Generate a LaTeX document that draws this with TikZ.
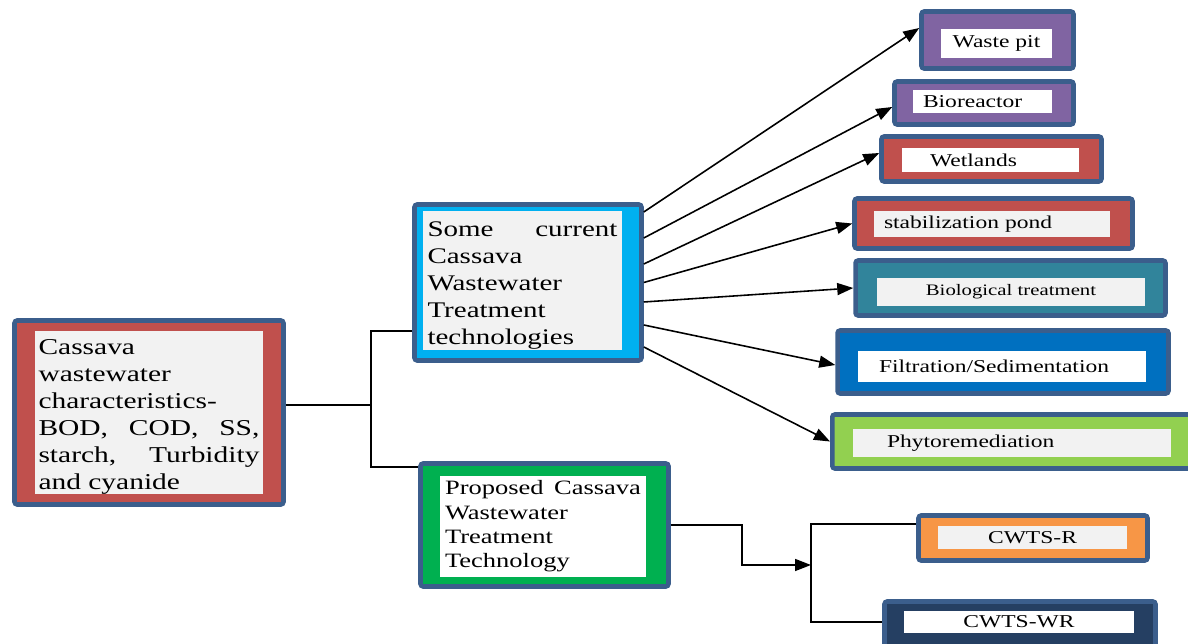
\documentclass[tikz,border=0pt]{standalone}
\usepackage{fontspec}
\setmainfont{Liberation Serif}[FakeStretch=1.3]
\usetikzlibrary{arrows.meta}
\definecolor{edge}{RGB}{59,94,140}
\definecolor{brick}{HTML}{C0504D}
\definecolor{sky}{HTML}{00B0F0}
\definecolor{leaf}{HTML}{00B050}
\definecolor{plum}{HTML}{8064A2}
\definecolor{teal}{HTML}{31849B}
\definecolor{ocean}{HTML}{0070C0}
\definecolor{lime}{HTML}{92D050}
\definecolor{amber}{HTML}{F79646}
\definecolor{navy}{HTML}{253F62}
\definecolor{paper}{HTML}{F2F2F2}
\tikzset{
  frame/.style={draw=edge, line width=2.6pt, rounded corners=1.5pt, fill=#1, inner sep=0pt},
  panel/.style={fill=#1, inner sep=0pt, font=\fontsize{10.3}{12}\selectfont},
  link/.style={line width=0.9pt},
}
\begin{document}
\begin{tikzpicture}[x=0.02cm, y=-0.02cm, >={Triangle[length=3.2mm,width=2.4mm]}]
\useasboundingbox (0,0) rectangle (1188,644);
\clip (0,0) rectangle (1188,644);

% main boxes
\node[frame=brick, minimum width=5.38cm, minimum height=3.68cm] (chars) at (149,412.5) {};
\node[panel=paper, minimum width=4.56cm, minimum height=3.26cm, align=left,
  font=\fontsize{12.9}{15.4}\selectfont] (chars-in) at (149,412.5)
  {\rule{0pt}{13.2pt}Cassava\\ wastewater\\ characteristics-\\ \makebox[4.42cm][s]{BOD, COD, SS,}\\
   \makebox[4.42cm][s]{starch, Turbidity}\\ and cyanide};

\node[frame=sky, minimum width=4.54cm, minimum height=3.12cm] (tech) at (528,282.5) {};
\node[panel=paper, minimum width=3.98cm, minimum height=2.70cm, align=left,
  font=\fontsize{12.7}{15.4}\selectfont] (tech-in) at (522.5,280.5)
  {\rule{0pt}{14.4pt}\makebox[3.8cm][s]{Some current}\\ Cassava\\ Wastewater\\ Treatment\\ technologies};

\node[frame=leaf, minimum width=4.96cm, minimum height=2.46cm] (prop) at (544.5,525) {};
\node[panel=white, minimum width=4.12cm, minimum height=2.02cm, align=left,
  font=\fontsize{11.6}{13.8}\selectfont] (prop-in) at (543,526.5)
  {\makebox[3.92cm][s]{Proposed Cassava}\\ Wastewater\\ Treatment\\ Technology};

% current technologies
\node[frame=plum, minimum width=3.04cm, minimum height=1.14cm] (pit) at (997.5,40) {};
\node[panel=white, minimum width=2.22cm, minimum height=0.58cm] (pit-in) at (996.5,43.5) {Waste pit};

\node[frame=plum, minimum width=3.58cm, minimum height=0.86cm] (bio) at (984,103) {};
\node[panel=white, minimum height=0.46cm, inner xsep=0.2cm, text width=2.38cm, align=left]
  (bio-in) at (982.5,101.5) {Bioreactor};

\node[frame=brick, minimum width=4.40cm, minimum height=0.90cm] (wet) at (991.5,159) {};
\node[panel=white, minimum height=0.48cm, inner xsep=0.56cm, text width=2.42cm, align=left]
  (wet-in) at (990.5,160) {Wetlands};

\node[frame=brick, minimum width=5.56cm, minimum height=1.00cm] (pond) at (993.5,223.5) {};
\node[panel=paper, minimum height=0.52cm, inner xsep=0.2cm, text width=4.32cm, align=left]
  (pond-in) at (992,224) {stabilization pond};

\node[frame=teal, minimum width=6.20cm, minimum height=1.10cm] (biot) at (1010.5,288) {};
\node[panel=paper, minimum width=5.36cm, minimum height=0.56cm,
  font=\fontsize{9.1}{11}\selectfont] (biot-in) at (1011,292) {Biological treatment};

\node[frame=ocean, minimum width=6.62cm, minimum height=1.26cm] (filt) at (1003,362) {};
\node[panel=white, minimum height=0.62cm, inner xsep=0.42cm, text width=4.92cm, align=left]
  (filt-in) at (1002,366.5) {Filtration/Sedimentation};

\node[frame=lime, minimum width=7.35cm, minimum height=1.08cm] (phyto) at (1016,441.5) {};
\node[panel=paper, minimum height=0.56cm, inner xsep=0.68cm, text width=5.0cm, align=left]
  (phyto-in) at (1012,443) {Phytoremediation};

% proposed technologies
\node[frame=amber, minimum width=4.58cm, minimum height=0.90cm] (cwr) at (1033,538) {};
\node[panel=paper, minimum width=3.78cm, minimum height=0.46cm] (cwr-in) at (1032.5,537.5) {CWTS-R};

\node[frame=navy, minimum width=5.42cm, minimum height=1.02cm] (cwwr) at (1020,627) {};
\node[panel=white, minimum width=4.60cm, minimum height=0.44cm] (cwwr-in) at (1019,622) {CWTS-WR};

% left fork
\coordinate (fork) at (371,405);
\coordinate (fork-t) at (371,331);
\coordinate (fork-b) at (371,467);
\draw[link] (chars.east |- fork) -- (fork);
\draw[link] (tech.west |- fork-t) -- (fork-t) -- (fork-b) -- (prop.west |- fork-b);

% fan of arrows
\draw[link,->] ([yshift=1.41cm]tech.east) -- ([yshift=0.24cm]pit.west);
\draw[link,->] ([yshift=0.89cm]tech.east) -- ([yshift=-0.08cm]bio.west);
\draw[link,->] ([yshift=0.37cm]tech.east) -- ([yshift=0.12cm]wet.west);
\draw[link,->] (tech.east) -- (pond.west);
\draw[link,->] ([yshift=-0.39cm]tech.east) -- (biot.west);
\draw[link,->] ([yshift=-0.85cm]tech.east) -- ([yshift=-0.06cm]filt.west);
\draw[link,->] ([yshift=-1.29cm]tech.east) -- (phyto.west);

% bottom fork
\coordinate (bend) at (742,524);
\coordinate (bar-t) at (811,524);
\coordinate (bar-m) at (811,565);
\coordinate (bar-b) at (811,622);
\draw[link,->] (prop.east) -- (prop.east -| bend) |- (bar-m);
\draw[link] (cwr.west |- bar-t) -- (bar-t) -- (bar-b) -- (cwwr.west |- bar-b);
\end{tikzpicture}
\end{document}
